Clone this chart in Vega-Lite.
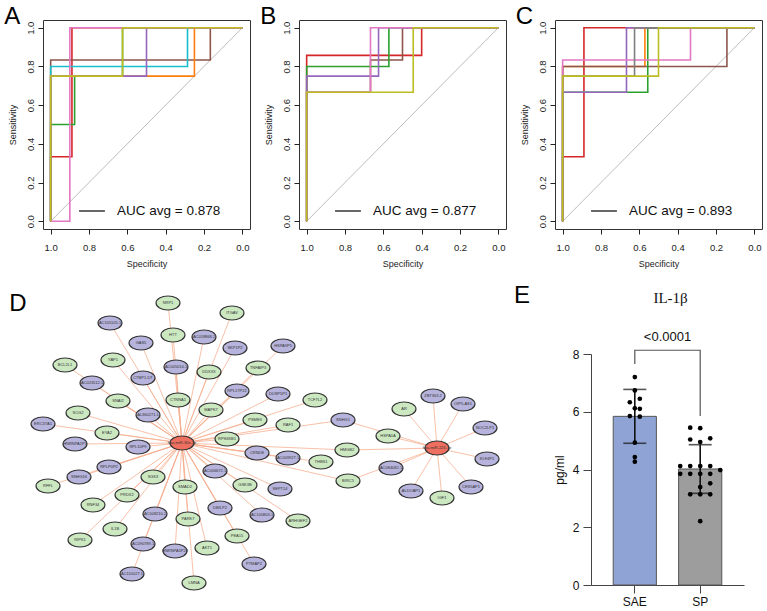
{
"$schema":"https://vega.github.io/schema/vega-lite/v6.json",
"padding":{"left":3,"top":4,"right":0,"bottom":0},
"background":"white",
"config":{"font":"Liberation Sans","view":{"stroke":null}},
"resolve":{"scale":{"color":"independent","fill":"independent"}},
"spacing":15,
"datasets":{
"rocA":[
{"c":"red","i":0,"sp":1,"se":0},{"c":"red","i":1,"sp":1,"se":0.333},{"c":"red","i":2,"sp":0.889,"se":0.333},{"c":"red","i":3,"sp":0.889,"se":1},{"c":"red","i":4,"sp":0,"se":1},
{"c":"green","i":0,"sp":1,"se":0},{"c":"green","i":1,"sp":1,"se":0.5},{"c":"green","i":2,"sp":0.875,"se":0.5},{"c":"green","i":3,"sp":0.875,"se":0.75},{"c":"green","i":4,"sp":0.625,"se":0.75},{"c":"green","i":5,"sp":0.625,"se":1},{"c":"green","i":6,"sp":0,"se":1},
{"c":"brown","i":0,"sp":1,"se":0},{"c":"brown","i":1,"sp":1,"se":0.833},{"c":"brown","i":2,"sp":0.167,"se":0.833},{"c":"brown","i":3,"sp":0.167,"se":1},{"c":"brown","i":4,"sp":0,"se":1},
{"c":"cyan","i":0,"sp":1,"se":0},{"c":"cyan","i":1,"sp":1,"se":0.8},{"c":"cyan","i":2,"sp":0.286,"se":0.8},{"c":"cyan","i":3,"sp":0.286,"se":1},{"c":"cyan","i":4,"sp":0,"se":1},
{"c":"orange","i":0,"sp":1,"se":0},{"c":"orange","i":1,"sp":1,"se":0.75},{"c":"orange","i":2,"sp":0.25,"se":0.75},{"c":"orange","i":3,"sp":0.25,"se":1},{"c":"orange","i":4,"sp":0,"se":1},
{"c":"purple","i":0,"sp":1,"se":0},{"c":"purple","i":1,"sp":1,"se":0.75},{"c":"purple","i":2,"sp":0.5,"se":0.75},{"c":"purple","i":3,"sp":0.5,"se":1},{"c":"purple","i":4,"sp":0,"se":1},
{"c":"pink","i":0,"sp":1,"se":0},{"c":"pink","i":1,"sp":0.9,"se":0},{"c":"pink","i":2,"sp":0.9,"se":1},{"c":"pink","i":3,"sp":0,"se":1},
{"c":"olive","i":0,"sp":1,"se":0},{"c":"olive","i":1,"sp":1,"se":0.75},{"c":"olive","i":2,"sp":0.625,"se":0.75},{"c":"olive","i":3,"sp":0.625,"se":1},{"c":"olive","i":4,"sp":0,"se":1}
],
"rocB":[
{"c":"red","i":0,"sp":1,"se":0},{"c":"red","i":1,"sp":1,"se":0.857},{"c":"red","i":2,"sp":0.4,"se":0.857},{"c":"red","i":3,"sp":0.4,"se":1},{"c":"red","i":4,"sp":0,"se":1},
{"c":"brown","i":0,"sp":1,"se":0},{"c":"brown","i":1,"sp":1,"se":0.667},{"c":"brown","i":2,"sp":0.667,"se":0.667},{"c":"brown","i":3,"sp":0.667,"se":0.833},{"c":"brown","i":4,"sp":0.5,"se":0.833},{"c":"brown","i":5,"sp":0.5,"se":1},{"c":"brown","i":6,"sp":0,"se":1},
{"c":"green","i":0,"sp":1,"se":0},{"c":"green","i":1,"sp":1,"se":0.8},{"c":"green","i":2,"sp":0.571,"se":0.8},{"c":"green","i":3,"sp":0.571,"se":1},{"c":"green","i":4,"sp":0,"se":1},
{"c":"purple","i":0,"sp":1,"se":0},{"c":"purple","i":1,"sp":1,"se":0.75},{"c":"purple","i":2,"sp":0.625,"se":0.75},{"c":"purple","i":3,"sp":0.625,"se":1},{"c":"purple","i":4,"sp":0,"se":1},
{"c":"pink","i":0,"sp":1,"se":0},{"c":"pink","i":1,"sp":1,"se":0.667},{"c":"pink","i":2,"sp":0.667,"se":0.667},{"c":"pink","i":3,"sp":0.667,"se":1},{"c":"pink","i":4,"sp":0,"se":1},
{"c":"olive","i":0,"sp":1,"se":0},{"c":"olive","i":1,"sp":1,"se":0.667},{"c":"olive","i":2,"sp":0.444,"se":0.667},{"c":"olive","i":3,"sp":0.444,"se":1},{"c":"olive","i":4,"sp":0,"se":1}
],
"rocC":[
{"c":"red","i":0,"sp":1,"se":0},{"c":"red","i":1,"sp":1,"se":0.333},{"c":"red","i":2,"sp":0.889,"se":0.333},{"c":"red","i":3,"sp":0.889,"se":1},{"c":"red","i":4,"sp":0,"se":1},
{"c":"orange","i":0,"sp":1,"se":0},{"c":"orange","i":1,"sp":1,"se":0.8},{"c":"orange","i":2,"sp":0.571,"se":0.8},{"c":"orange","i":3,"sp":0.571,"se":1},{"c":"orange","i":4,"sp":0,"se":1},
{"c":"brown","i":0,"sp":1,"se":0},{"c":"brown","i":1,"sp":1,"se":0.8},{"c":"brown","i":2,"sp":0.143,"se":0.8},{"c":"brown","i":3,"sp":0.143,"se":1},{"c":"brown","i":4,"sp":0,"se":1},
{"c":"green","i":0,"sp":1,"se":0},{"c":"green","i":1,"sp":1,"se":0.667},{"c":"green","i":2,"sp":0.556,"se":0.667},{"c":"green","i":3,"sp":0.556,"se":1},{"c":"green","i":4,"sp":0,"se":1},
{"c":"purple","i":0,"sp":1,"se":0},{"c":"purple","i":1,"sp":1,"se":0.667},{"c":"purple","i":2,"sp":0.667,"se":0.667},{"c":"purple","i":3,"sp":0.667,"se":1},{"c":"purple","i":4,"sp":0,"se":1},
{"c":"pink","i":0,"sp":1,"se":0},{"c":"pink","i":1,"sp":1,"se":0.833},{"c":"pink","i":2,"sp":0.333,"se":0.833},{"c":"pink","i":3,"sp":0.333,"se":1},{"c":"pink","i":4,"sp":0,"se":1},
{"c":"gray","i":0,"sp":1,"se":0},{"c":"gray","i":1,"sp":1,"se":0.75},{"c":"gray","i":2,"sp":0.625,"se":0.75},{"c":"gray","i":3,"sp":0.625,"se":1},{"c":"gray","i":4,"sp":0,"se":1},
{"c":"olive","i":0,"sp":1,"se":0},{"c":"olive","i":1,"sp":1,"se":0.75},{"c":"olive","i":2,"sp":0.5,"se":0.75},{"c":"olive","i":3,"sp":0.5,"se":1},{"c":"olive","i":4,"sp":0,"se":1}
],
"nodes":[
{"id":"hsa-miR-30e-3p","x":182,"y":442,"t":"m"},
{"id":"hsa-miR-223-3p","x":437,"y":447,"t":"m"},
{"id":"NRP1","x":168,"y":302,"t":"g"},
{"id":"ITGAV","x":232,"y":312,"t":"g"},
{"id":"AC105105.1","x":110,"y":322,"t":"p"},
{"id":"HTT","x":173,"y":334,"t":"g"},
{"id":"GAS5","x":141,"y":342,"t":"p"},
{"id":"AC018868.2","x":204,"y":336,"t":"p"},
{"id":"SKP1P2","x":235,"y":347,"t":"p"},
{"id":"HSPA9P5","x":283,"y":345,"t":"p"},
{"id":"BCL2L1","x":65,"y":364,"t":"g"},
{"id":"YAP1","x":113,"y":359,"t":"g"},
{"id":"AC005014.1","x":176,"y":366,"t":"p"},
{"id":"DDX3X","x":209,"y":371,"t":"g"},
{"id":"TNFAIP3","x":258,"y":367,"t":"g"},
{"id":"AC023512.1","x":92,"y":382,"t":"p"},
{"id":"CTBP1-DT","x":143,"y":377,"t":"p"},
{"id":"RPL17P22","x":237,"y":390,"t":"p"},
{"id":"DUSP5P1","x":278,"y":393,"t":"p"},
{"id":"TCF7L2","x":315,"y":399,"t":"g"},
{"id":"SNAI2","x":118,"y":400,"t":"g"},
{"id":"CTNNA1","x":178,"y":399,"t":"g"},
{"id":"SCG2","x":78,"y":412,"t":"g"},
{"id":"AL360271.1","x":148,"y":414,"t":"p"},
{"id":"MAPK7","x":211,"y":409,"t":"g"},
{"id":"PSME3","x":255,"y":419,"t":"g"},
{"id":"RAF1","x":288,"y":424,"t":"g"},
{"id":"SNHG1","x":343,"y":419,"t":"p"},
{"id":"ERC37A1","x":43,"y":423,"t":"p"},
{"id":"EYA2","x":107,"y":432,"t":"g"},
{"id":"RPS6KB1","x":227,"y":438,"t":"g"},
{"id":"HNRNPA1P1","x":75,"y":443,"t":"p"},
{"id":"RPL10P9","x":138,"y":446,"t":"p"},
{"id":"CRNDE","x":257,"y":452,"t":"p"},
{"id":"AC009927.1","x":288,"y":457,"t":"p"},
{"id":"THBS1","x":321,"y":461,"t":"g"},
{"id":"HMGB2","x":347,"y":449,"t":"g"},
{"id":"RPLP0P2","x":109,"y":466,"t":"p"},
{"id":"AC006672.1","x":215,"y":470,"t":"p"},
{"id":"SNHG16","x":79,"y":476,"t":"p"},
{"id":"SGK3","x":153,"y":476,"t":"g"},
{"id":"RFFL","x":48,"y":485,"t":"g"},
{"id":"SMAD2","x":185,"y":486,"t":"g"},
{"id":"GSK3B","x":245,"y":484,"t":"g"},
{"id":"SEPT14","x":280,"y":488,"t":"p"},
{"id":"BIRC5","x":348,"y":480,"t":"g"},
{"id":"PRDX2","x":127,"y":494,"t":"g"},
{"id":"RNF34","x":93,"y":504,"t":"g"},
{"id":"DBILP2","x":220,"y":507,"t":"p"},
{"id":"AC100803.1","x":262,"y":514,"t":"p"},
{"id":"ARHGEF2","x":298,"y":520,"t":"g"},
{"id":"AC008210.2","x":155,"y":513,"t":"p"},
{"id":"PARK7","x":188,"y":518,"t":"g"},
{"id":"IL1B","x":115,"y":528,"t":"g"},
{"id":"RIPK1","x":80,"y":539,"t":"g"},
{"id":"PEA15","x":237,"y":535,"t":"g"},
{"id":"AC090789.1","x":143,"y":543,"t":"p"},
{"id":"HNRNPA1P28","x":175,"y":550,"t":"p"},
{"id":"AKT1","x":207,"y":547,"t":"g"},
{"id":"PTMAP2","x":254,"y":563,"t":"p"},
{"id":"AC110027.1","x":132,"y":573,"t":"p"},
{"id":"LMNA","x":194,"y":582,"t":"g"},
{"id":"AR","x":404,"y":408,"t":"g"},
{"id":"ZBT363.2","x":433,"y":395,"t":"p"},
{"id":"OIP5-AS1","x":463,"y":403,"t":"p"},
{"id":"NOC2LP1","x":485,"y":427,"t":"p"},
{"id":"HSPA1A","x":388,"y":435,"t":"g"},
{"id":"KLF4P1","x":487,"y":458,"t":"p"},
{"id":"AC084082.1","x":391,"y":467,"t":"p"},
{"id":"ALDOAP1","x":411,"y":490,"t":"p"},
{"id":"CES5AP1","x":471,"y":486,"t":"p"},
{"id":"IGF1","x":442,"y":497,"t":"g"}
],
"edges":[
{"s":"hsa-miR-30e-3p","t":"NRP1"},{"s":"hsa-miR-30e-3p","t":"ITGAV"},{"s":"hsa-miR-30e-3p","t":"AC105105.1"},{"s":"hsa-miR-30e-3p","t":"HTT"},{"s":"hsa-miR-30e-3p","t":"GAS5"},{"s":"hsa-miR-30e-3p","t":"AC018868.2"},{"s":"hsa-miR-30e-3p","t":"SKP1P2"},{"s":"hsa-miR-30e-3p","t":"HSPA9P5"},{"s":"hsa-miR-30e-3p","t":"BCL2L1"},{"s":"hsa-miR-30e-3p","t":"YAP1"},
{"s":"hsa-miR-30e-3p","t":"AC005014.1"},{"s":"hsa-miR-30e-3p","t":"DDX3X"},{"s":"hsa-miR-30e-3p","t":"TNFAIP3"},{"s":"hsa-miR-30e-3p","t":"AC023512.1"},{"s":"hsa-miR-30e-3p","t":"CTBP1-DT"},{"s":"hsa-miR-30e-3p","t":"RPL17P22"},{"s":"hsa-miR-30e-3p","t":"DUSP5P1"},{"s":"hsa-miR-30e-3p","t":"TCF7L2"},{"s":"hsa-miR-30e-3p","t":"SNAI2"},{"s":"hsa-miR-30e-3p","t":"CTNNA1"},
{"s":"hsa-miR-30e-3p","t":"SCG2"},{"s":"hsa-miR-30e-3p","t":"AL360271.1"},{"s":"hsa-miR-30e-3p","t":"MAPK7"},{"s":"hsa-miR-30e-3p","t":"PSME3"},{"s":"hsa-miR-30e-3p","t":"RAF1"},{"s":"hsa-miR-30e-3p","t":"SNHG1"},{"s":"hsa-miR-30e-3p","t":"ERC37A1"},{"s":"hsa-miR-30e-3p","t":"EYA2"},{"s":"hsa-miR-30e-3p","t":"RPS6KB1"},{"s":"hsa-miR-30e-3p","t":"HNRNPA1P1"},
{"s":"hsa-miR-30e-3p","t":"RPL10P9"},{"s":"hsa-miR-30e-3p","t":"CRNDE"},{"s":"hsa-miR-30e-3p","t":"AC009927.1"},{"s":"hsa-miR-30e-3p","t":"THBS1"},{"s":"hsa-miR-30e-3p","t":"HMGB2"},{"s":"hsa-miR-30e-3p","t":"RPLP0P2"},{"s":"hsa-miR-30e-3p","t":"AC006672.1"},{"s":"hsa-miR-30e-3p","t":"SNHG16"},{"s":"hsa-miR-30e-3p","t":"SGK3"},{"s":"hsa-miR-30e-3p","t":"RFFL"},
{"s":"hsa-miR-30e-3p","t":"SMAD2"},{"s":"hsa-miR-30e-3p","t":"GSK3B"},{"s":"hsa-miR-30e-3p","t":"SEPT14"},{"s":"hsa-miR-30e-3p","t":"BIRC5"},{"s":"hsa-miR-30e-3p","t":"PRDX2"},{"s":"hsa-miR-30e-3p","t":"RNF34"},{"s":"hsa-miR-30e-3p","t":"DBILP2"},{"s":"hsa-miR-30e-3p","t":"AC100803.1"},{"s":"hsa-miR-30e-3p","t":"ARHGEF2"},{"s":"hsa-miR-30e-3p","t":"AC008210.2"},
{"s":"hsa-miR-30e-3p","t":"PARK7"},{"s":"hsa-miR-30e-3p","t":"IL1B"},{"s":"hsa-miR-30e-3p","t":"RIPK1"},{"s":"hsa-miR-30e-3p","t":"PEA15"},{"s":"hsa-miR-30e-3p","t":"AC090789.1"},{"s":"hsa-miR-30e-3p","t":"HNRNPA1P28"},{"s":"hsa-miR-30e-3p","t":"AKT1"},{"s":"hsa-miR-30e-3p","t":"PTMAP2"},{"s":"hsa-miR-30e-3p","t":"AC110027.1"},{"s":"hsa-miR-30e-3p","t":"LMNA"},
{"s":"hsa-miR-223-3p","t":"AR"},{"s":"hsa-miR-223-3p","t":"ZBT363.2"},{"s":"hsa-miR-223-3p","t":"OIP5-AS1"},{"s":"hsa-miR-223-3p","t":"NOC2LP1"},{"s":"hsa-miR-223-3p","t":"HSPA1A"},{"s":"hsa-miR-223-3p","t":"KLF4P1"},{"s":"hsa-miR-223-3p","t":"AC084082.1"},{"s":"hsa-miR-223-3p","t":"ALDOAP1"},{"s":"hsa-miR-223-3p","t":"CES5AP1"},{"s":"hsa-miR-223-3p","t":"IGF1"},
{"s":"hsa-miR-223-3p","t":"SNHG1"},{"s":"hsa-miR-223-3p","t":"HMGB2"},{"s":"hsa-miR-223-3p","t":"BIRC5"}
],
"il1b":[
{"g":"SAE","v":7.2,"c":0},{"g":"SAE","v":6.74,"c":0},{"g":"SAE","v":6.45,"c":0.5},{"g":"SAE","v":6.33,"c":-0.5},{"g":"SAE","v":6.12,"c":0},{"g":"SAE","v":6.1,"c":0.5},{"g":"SAE","v":5.85,"c":-0.5},{"g":"SAE","v":5.83,"c":0.5},{"g":"SAE","v":4.93,"c":0},{"g":"SAE","v":4.43,"c":0},{"g":"SAE","v":4.27,"c":0},
{"g":"SP","v":5.45,"c":-1},{"g":"SP","v":5.43,"c":0},{"g":"SP","v":5.04,"c":-1},{"g":"SP","v":4.95,"c":0},{"g":"SP","v":5.08,"c":1},{"g":"SP","v":4.12,"c":-2},{"g":"SP","v":4.12,"c":-1},{"g":"SP","v":4.12,"c":0},{"g":"SP","v":4.12,"c":1},{"g":"SP","v":3.85,"c":-2},{"g":"SP","v":3.85,"c":-1},{"g":"SP","v":3.85,"c":0},{"g":"SP","v":3.85,"c":1},{"g":"SP","v":3.98,"c":2},{"g":"SP","v":3.52,"c":1},{"g":"SP","v":3.39,"c":0},{"g":"SP","v":3.14,"c":-1},{"g":"SP","v":3.14,"c":0},{"g":"SP","v":3.14,"c":1},{"g":"SP","v":2.21,"c":0}
],
"brk":[{"g":"SAE","v":7.65,"o":1},{"g":"SAE","v":8.13,"o":2},{"g":"SP","v":8.13,"o":3},{"g":"SP","v":5.85,"o":4}]
},
"vconcat":[
{"hconcat":[
{"width":207,"height":209,"view":{"stroke":"#333","strokeWidth":1},
"layer":[
{"data":{"values":[{"sp":1,"se":0},{"sp":0,"se":1}]},"mark":{"type":"line","color":"#BDBDBD","strokeWidth":1},
"encoding":{"x":{"field":"sp","type":"quantitative","scale":{"domain":[-0.04,1.04],"reverse":true,"nice":false,"zero":false},"axis":{"values":[0,0.2,0.4,0.6,0.8,1],"format":".1f","title":"Specificity","domain":false,"grid":false,"tickSize":5,"tickColor":"#222","labelFontSize":9.5,"labelColor":"#222","labelPadding":8,"labelFlush":false,"labelOverlap":false,"titleFontSize":9,"titleFontWeight":"normal","titleColor":"#222","titlePadding":8}},
"y":{"field":"se","type":"quantitative","scale":{"domain":[-0.04,1.04],"nice":false,"zero":false},"axis":{"values":[0,0.2,0.4,0.6,0.8,1],"format":".1f","title":"Sensitivity","domain":false,"grid":false,"tickSize":5,"tickColor":"#222","labelFontSize":9.5,"labelColor":"#222","labelAngle":-90,"labelAlign":"center","labelBaseline":"bottom","labelPadding":3,"labelFlush":false,"labelOverlap":false,"titleFontSize":9,"titleFontWeight":"normal","titleColor":"#222","titlePadding":8}}}},
{"data":{"name":"rocA"},"mark":{"type":"line","strokeWidth":1.6},
"encoding":{"x":{"field":"sp","type":"quantitative","scale":{"domain":[-0.04,1.04],"reverse":true,"nice":false,"zero":false},"axis":{"values":[0,0.2,0.4,0.6,0.8,1],"format":".1f","title":"Specificity","domain":false,"grid":false,"tickSize":5,"tickColor":"#222","labelFontSize":9.5,"labelColor":"#222","labelPadding":8,"labelFlush":false,"labelOverlap":false,"titleFontSize":9,"titleFontWeight":"normal","titleColor":"#222","titlePadding":8}},
"y":{"field":"se","type":"quantitative","scale":{"domain":[-0.04,1.04],"nice":false,"zero":false},"axis":{"values":[0,0.2,0.4,0.6,0.8,1],"format":".1f","title":"Sensitivity","domain":false,"grid":false,"tickSize":5,"tickColor":"#222","labelFontSize":9.5,"labelColor":"#222","labelAngle":-90,"labelAlign":"center","labelBaseline":"bottom","labelPadding":3,"labelFlush":false,"labelOverlap":false,"titleFontSize":9,"titleFontWeight":"normal","titleColor":"#222","titlePadding":8}},
"color":{"field":"c","type":"nominal","scale":{"domain":["red","green","brown","cyan","orange","purple","pink","olive","gray"],"range":["#d62728","#2ca02c","#8c564b","#17becf","#ff7f0e","#9467bd","#e377c2","#bcbd22","#7f7f7f"]},"legend":null},"order":{"field":"i","type":"quantitative"}}},
{"data":{"values":[{}]},"mark":{"type":"rule","color":"#333","strokeWidth":1.5},
"encoding":{"x":{"datum":0.852,"type":"quantitative","scale":{"domain":[-0.04,1.04],"reverse":true,"nice":false,"zero":false}},"x2":{"datum":0.717},"y":{"datum":0.053,"type":"quantitative","scale":{"domain":[-0.04,1.04],"nice":false,"zero":false}}}},
{"data":{"values":[{}]},"mark":{"type":"text","align":"left","baseline":"middle","fontSize":13.5,"color":"#111"},
"encoding":{"x":{"datum":0.654,"type":"quantitative","scale":{"domain":[-0.04,1.04],"reverse":true,"nice":false,"zero":false}},"y":{"datum":0.053,"type":"quantitative","scale":{"domain":[-0.04,1.04],"nice":false,"zero":false}},"text":{"value":"AUC avg = 0.878"}}},
{"data":{"values":[{}]},"mark":{"type":"text","align":"center","baseline":"alphabetic","fontSize":24,"color":"#000"},
"encoding":{"x":{"datum":1.2,"type":"quantitative","scale":{"domain":[-0.04,1.04],"reverse":true,"nice":false,"zero":false}},"y":{"datum":1.019,"type":"quantitative","scale":{"domain":[-0.04,1.04],"nice":false,"zero":false}},"text":{"value":"A"}}}
]},
{"width":207,"height":209,"view":{"stroke":"#333","strokeWidth":1},
"layer":[
{"data":{"values":[{"sp":1,"se":0},{"sp":0,"se":1}]},"mark":{"type":"line","color":"#BDBDBD","strokeWidth":1},
"encoding":{"x":{"field":"sp","type":"quantitative","scale":{"domain":[-0.04,1.04],"reverse":true,"nice":false,"zero":false},"axis":{"values":[0,0.2,0.4,0.6,0.8,1],"format":".1f","title":"Specificity","domain":false,"grid":false,"tickSize":5,"tickColor":"#222","labelFontSize":9.5,"labelColor":"#222","labelPadding":8,"labelFlush":false,"labelOverlap":false,"titleFontSize":9,"titleFontWeight":"normal","titleColor":"#222","titlePadding":8}},
"y":{"field":"se","type":"quantitative","scale":{"domain":[-0.04,1.04],"nice":false,"zero":false},"axis":{"values":[0,0.2,0.4,0.6,0.8,1],"format":".1f","title":"Sensitivity","domain":false,"grid":false,"tickSize":5,"tickColor":"#222","labelFontSize":9.5,"labelColor":"#222","labelAngle":-90,"labelAlign":"center","labelBaseline":"bottom","labelPadding":3,"labelFlush":false,"labelOverlap":false,"titleFontSize":9,"titleFontWeight":"normal","titleColor":"#222","titlePadding":8}}}},
{"data":{"name":"rocB"},"mark":{"type":"line","strokeWidth":1.6},
"encoding":{"x":{"field":"sp","type":"quantitative","scale":{"domain":[-0.04,1.04],"reverse":true,"nice":false,"zero":false},"axis":{"values":[0,0.2,0.4,0.6,0.8,1],"format":".1f","title":"Specificity","domain":false,"grid":false,"tickSize":5,"tickColor":"#222","labelFontSize":9.5,"labelColor":"#222","labelPadding":8,"labelFlush":false,"labelOverlap":false,"titleFontSize":9,"titleFontWeight":"normal","titleColor":"#222","titlePadding":8}},
"y":{"field":"se","type":"quantitative","scale":{"domain":[-0.04,1.04],"nice":false,"zero":false},"axis":{"values":[0,0.2,0.4,0.6,0.8,1],"format":".1f","title":"Sensitivity","domain":false,"grid":false,"tickSize":5,"tickColor":"#222","labelFontSize":9.5,"labelColor":"#222","labelAngle":-90,"labelAlign":"center","labelBaseline":"bottom","labelPadding":3,"labelFlush":false,"labelOverlap":false,"titleFontSize":9,"titleFontWeight":"normal","titleColor":"#222","titlePadding":8}},
"color":{"field":"c","type":"nominal","scale":{"domain":["red","green","brown","cyan","orange","purple","pink","olive","gray"],"range":["#d62728","#2ca02c","#8c564b","#17becf","#ff7f0e","#9467bd","#e377c2","#bcbd22","#7f7f7f"]},"legend":null},"order":{"field":"i","type":"quantitative"}}},
{"data":{"values":[{}]},"mark":{"type":"rule","color":"#333","strokeWidth":1.5},
"encoding":{"x":{"datum":0.852,"type":"quantitative","scale":{"domain":[-0.04,1.04],"reverse":true,"nice":false,"zero":false}},"x2":{"datum":0.717},"y":{"datum":0.053,"type":"quantitative","scale":{"domain":[-0.04,1.04],"nice":false,"zero":false}}}},
{"data":{"values":[{}]},"mark":{"type":"text","align":"left","baseline":"middle","fontSize":13.5,"color":"#111"},
"encoding":{"x":{"datum":0.654,"type":"quantitative","scale":{"domain":[-0.04,1.04],"reverse":true,"nice":false,"zero":false}},"y":{"datum":0.053,"type":"quantitative","scale":{"domain":[-0.04,1.04],"nice":false,"zero":false}},"text":{"value":"AUC avg = 0.877"}}},
{"data":{"values":[{}]},"mark":{"type":"text","align":"center","baseline":"alphabetic","fontSize":24,"color":"#000"},
"encoding":{"x":{"datum":1.2,"type":"quantitative","scale":{"domain":[-0.04,1.04],"reverse":true,"nice":false,"zero":false}},"y":{"datum":1.019,"type":"quantitative","scale":{"domain":[-0.04,1.04],"nice":false,"zero":false}},"text":{"value":"B"}}}
]},
{"width":207,"height":209,"view":{"stroke":"#333","strokeWidth":1},
"layer":[
{"data":{"values":[{"sp":1,"se":0},{"sp":0,"se":1}]},"mark":{"type":"line","color":"#BDBDBD","strokeWidth":1},
"encoding":{"x":{"field":"sp","type":"quantitative","scale":{"domain":[-0.04,1.04],"reverse":true,"nice":false,"zero":false},"axis":{"values":[0,0.2,0.4,0.6,0.8,1],"format":".1f","title":"Specificity","domain":false,"grid":false,"tickSize":5,"tickColor":"#222","labelFontSize":9.5,"labelColor":"#222","labelPadding":8,"labelFlush":false,"labelOverlap":false,"titleFontSize":9,"titleFontWeight":"normal","titleColor":"#222","titlePadding":8}},
"y":{"field":"se","type":"quantitative","scale":{"domain":[-0.04,1.04],"nice":false,"zero":false},"axis":{"values":[0,0.2,0.4,0.6,0.8,1],"format":".1f","title":"Sensitivity","domain":false,"grid":false,"tickSize":5,"tickColor":"#222","labelFontSize":9.5,"labelColor":"#222","labelAngle":-90,"labelAlign":"center","labelBaseline":"bottom","labelPadding":3,"labelFlush":false,"labelOverlap":false,"titleFontSize":9,"titleFontWeight":"normal","titleColor":"#222","titlePadding":8}}}},
{"data":{"name":"rocC"},"mark":{"type":"line","strokeWidth":1.6},
"encoding":{"x":{"field":"sp","type":"quantitative","scale":{"domain":[-0.04,1.04],"reverse":true,"nice":false,"zero":false},"axis":{"values":[0,0.2,0.4,0.6,0.8,1],"format":".1f","title":"Specificity","domain":false,"grid":false,"tickSize":5,"tickColor":"#222","labelFontSize":9.5,"labelColor":"#222","labelPadding":8,"labelFlush":false,"labelOverlap":false,"titleFontSize":9,"titleFontWeight":"normal","titleColor":"#222","titlePadding":8}},
"y":{"field":"se","type":"quantitative","scale":{"domain":[-0.04,1.04],"nice":false,"zero":false},"axis":{"values":[0,0.2,0.4,0.6,0.8,1],"format":".1f","title":"Sensitivity","domain":false,"grid":false,"tickSize":5,"tickColor":"#222","labelFontSize":9.5,"labelColor":"#222","labelAngle":-90,"labelAlign":"center","labelBaseline":"bottom","labelPadding":3,"labelFlush":false,"labelOverlap":false,"titleFontSize":9,"titleFontWeight":"normal","titleColor":"#222","titlePadding":8}},
"color":{"field":"c","type":"nominal","scale":{"domain":["red","green","brown","cyan","orange","purple","pink","olive","gray"],"range":["#d62728","#2ca02c","#8c564b","#17becf","#ff7f0e","#9467bd","#e377c2","#bcbd22","#7f7f7f"]},"legend":null},"order":{"field":"i","type":"quantitative"}}},
{"data":{"values":[{}]},"mark":{"type":"rule","color":"#333","strokeWidth":1.5},
"encoding":{"x":{"datum":0.852,"type":"quantitative","scale":{"domain":[-0.04,1.04],"reverse":true,"nice":false,"zero":false}},"x2":{"datum":0.717},"y":{"datum":0.053,"type":"quantitative","scale":{"domain":[-0.04,1.04],"nice":false,"zero":false}}}},
{"data":{"values":[{}]},"mark":{"type":"text","align":"left","baseline":"middle","fontSize":13.5,"color":"#111"},
"encoding":{"x":{"datum":0.654,"type":"quantitative","scale":{"domain":[-0.04,1.04],"reverse":true,"nice":false,"zero":false}},"y":{"datum":0.053,"type":"quantitative","scale":{"domain":[-0.04,1.04],"nice":false,"zero":false}},"text":{"value":"AUC avg = 0.893"}}},
{"data":{"values":[{}]},"mark":{"type":"text","align":"center","baseline":"alphabetic","fontSize":24,"color":"#000"},
"encoding":{"x":{"datum":1.2,"type":"quantitative","scale":{"domain":[-0.04,1.04],"reverse":true,"nice":false,"zero":false}},"y":{"datum":1.019,"type":"quantitative","scale":{"domain":[-0.04,1.04],"nice":false,"zero":false}},"text":{"value":"C"}}}
]}
],"spacing":8,"resolve":{"scale":{"color":"independent"}}},
{"hconcat":[
{"width":462,"height":247,
"layer":[
{"data":{"name":"edges"},
"transform":[{"lookup":"s","from":{"data":{"name":"nodes"},"key":"id","fields":["x","y"]},"as":["sx","sy"]},{"lookup":"t","from":{"data":{"name":"nodes"},"key":"id","fields":["x","y"]},"as":["tx","ty"]}],
"mark":{"type":"rule","color":"#F6AE8E","strokeWidth":0.9,"opacity":0.85},
"encoding":{"x":{"field":"sx","type":"quantitative","scale":{"domain":[43,505],"nice":false,"zero":false},"axis":null},"y":{"field":"sy","type":"quantitative","scale":{"domain":[353,600],"reverse":true,"nice":false,"zero":false},"axis":null},"x2":{"field":"tx"},"y2":{"field":"ty"}}},
{"data":{"name":"nodes"},"mark":{"type":"point","shape":"M-1.71,0A1.71,1,0,1,0,1.71,0A1.71,1,0,1,0,-1.71,0Z","size":196,"filled":true,"stroke":"#333","strokeWidth":1.2,"opacity":1},
"encoding":{"x":{"field":"x","type":"quantitative","scale":{"domain":[43,505],"nice":false,"zero":false},"axis":null},"y":{"field":"y","type":"quantitative","scale":{"domain":[353,600],"reverse":true,"nice":false,"zero":false},"axis":null},"fill":{"field":"t","type":"nominal","scale":{"domain":["g","p","m"],"range":["#CBE8C1","#B6B4DC","#EE6F5F"]},"legend":null}}},
{"data":{"name":"nodes"},"mark":{"type":"text","fontSize":4,"color":"#333","align":"center","baseline":"middle"},
"encoding":{"x":{"field":"x","type":"quantitative","scale":{"domain":[43,505],"nice":false,"zero":false},"axis":null},"y":{"field":"y","type":"quantitative","scale":{"domain":[353,600],"reverse":true,"nice":false,"zero":false},"axis":null},"text":{"field":"id"}}},
{"data":{"values":[{}]},"mark":{"type":"text","align":"center","baseline":"alphabetic","fontSize":24,"color":"#000"},
"encoding":{"x":{"datum":18,"type":"quantitative","scale":{"domain":[43,505],"nice":false,"zero":false},"axis":null},"y":{"datum":310,"type":"quantitative","scale":{"domain":[353,600],"reverse":true,"nice":false,"zero":false},"axis":null},"text":{"value":"D"}}}
]},
{"width":153,"height":231,
"layer":[
{"encoding":{"x":{"field":"g","type":"nominal","title":null,"scale":{"type":"band","paddingInner":0.34,"paddingOuter":0.34},"axis":{"title":null,"labelAngle":0,"domainColor":"#444","tickColor":"#444","tickSize":8,"labelFontSize":12,"labelColor":"#111","labelPadding":3,"grid":false}},
"y":{"field":"v","type":"quantitative","title":"pg/ml","scale":{"domain":[0,8],"nice":false},"axis":{"values":[0,2,4,6,8],"title":"pg/ml","grid":false,"domainColor":"#444","tickColor":"#444","tickSize":8,"labelFontSize":12,"labelColor":"#111","labelPadding":4,"titleFontSize":12,"titleFontWeight":"normal","titleColor":"#111","titlePadding":6}}},
"layer":[
{"data":{"name":"il1b"},"mark":{"type":"bar","stroke":"#555","strokeWidth":1},
"encoding":{"y":{"aggregate":"mean","field":"v","type":"quantitative","title":"pg/ml","scale":{"domain":[0,8],"nice":false},"axis":{"values":[0,2,4,6,8],"title":"pg/ml","grid":false,"domainColor":"#444","tickColor":"#444","tickSize":8,"labelFontSize":12,"labelColor":"#111","labelPadding":4,"titleFontSize":12,"titleFontWeight":"normal","titleColor":"#111","titlePadding":6}},
"fill":{"field":"g","type":"nominal","scale":{"domain":["SAE","SP"],"range":["#8FA4D5","#9D9D9D"]},"legend":null}}},
{"data":{"name":"il1b"},"mark":{"type":"errorbar","extent":"stdev","ticks":{"size":23},"color":"#111","thickness":1.6}},
{"data":{"name":"brk"},"mark":{"type":"line","color":"#555","strokeWidth":1.2},
"encoding":{"order":{"field":"o","type":"quantitative"}}}
]},
{"data":{"name":"il1b"},"mark":{"type":"point","filled":true,"size":22,"color":"#000","opacity":1},
"encoding":{"x":{"field":"g","type":"nominal","title":null,"bandPosition":0,"scale":{"type":"band","paddingInner":0.34,"paddingOuter":0.34},"axis":null},"xOffset":{"field":"c","type":"quantitative","scale":{"domain":[-2,2],"range":[1.6,41.6]}},"y":{"field":"v","type":"quantitative","title":"pg/ml","scale":{"domain":[0,8],"nice":false}}}},
{"data":{"values":[{}]},"mark":{"type":"text","align":"center","baseline":"alphabetic","fontSize":24,"color":"#000"},
"encoding":{"x":{"datum":-0.451,"type":"quantitative","scale":{"domain":[0,1],"nice":false,"zero":false},"axis":null},"y":{"datum":9.76,"type":"quantitative","scale":{"domain":[0,8],"nice":false}},"text":{"value":"E"}}},
{"data":{"values":[{}]},"mark":{"type":"text","align":"center","baseline":"alphabetic","fontSize":15,"font":"Liberation Serif","color":"#111"},
"encoding":{"x":{"datum":0.52,"type":"quantitative","scale":{"domain":[0,1],"nice":false,"zero":false},"axis":null},"y":{"datum":9.76,"type":"quantitative","scale":{"domain":[0,8],"nice":false}},"text":{"value":"IL-1β"}}},
{"data":{"values":[{}]},"mark":{"type":"text","align":"center","baseline":"alphabetic","fontSize":13,"color":"#111"},
"encoding":{"x":{"datum":0.5,"type":"quantitative","scale":{"domain":[0,1],"nice":false,"zero":false},"axis":null},"y":{"datum":8.45,"type":"quantitative","scale":{"domain":[0,8],"nice":false}},"text":{"value":"<0.0001"}}}
],
"resolve":{"scale":{"x":"independent","xOffset":"independent"}}}
],"spacing":8,"resolve":{"scale":{"fill":"independent"}}}
]
}
